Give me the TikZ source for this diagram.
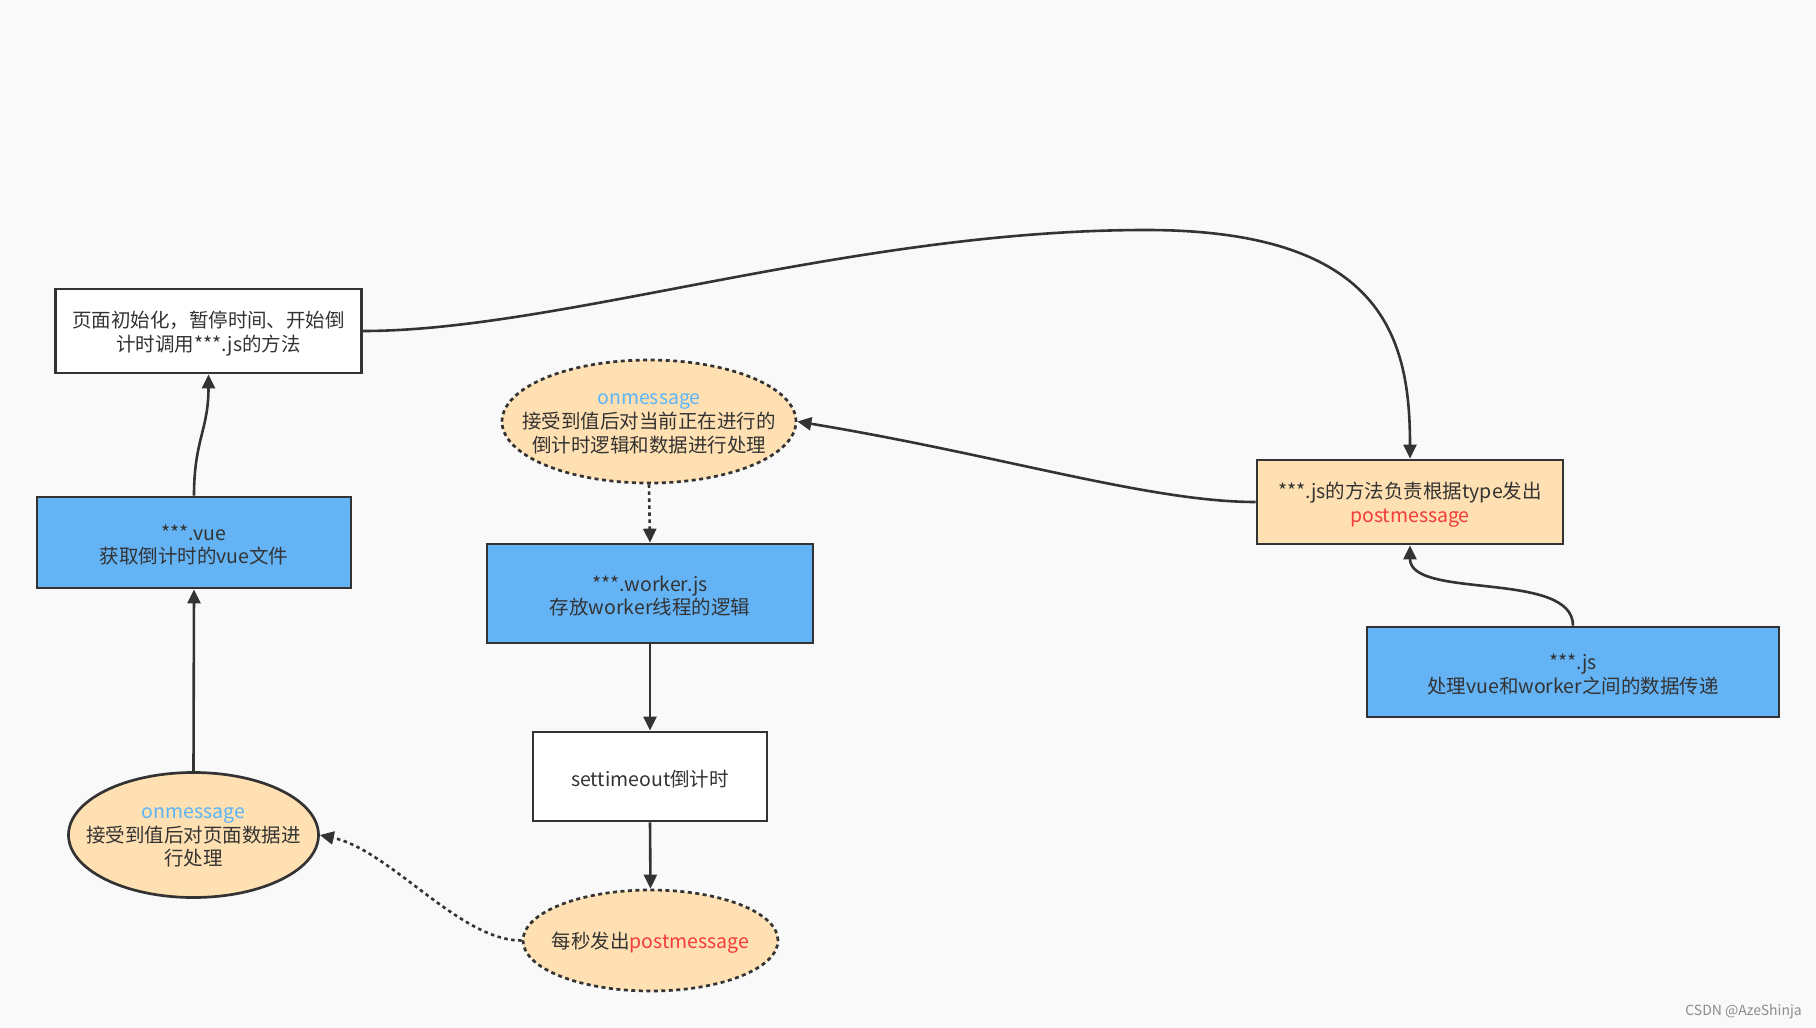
\documentclass[tikz,border=0pt]{standalone}
\usepackage{fontspec}
\setmainfont{Noto Sans CJK SC}
\usetikzlibrary{shapes.geometric,arrows.meta}
\definecolor{bgc}{HTML}{F9F9F9}
\definecolor{bluef}{HTML}{63B3F5}
\definecolor{orangef}{HTML}{FFE0B2}
\definecolor{linec}{HTML}{333333}
\definecolor{msgblue}{HTML}{5BB4F7}
\definecolor{msgred}{HTML}{F53B3B}
\tikzset{
  boxbase/.style={rectangle, draw=linec, line width=2.7pt, inner sep=0pt},
  whitebox/.style={boxbase, fill=white},
  bluebox/.style={boxbase, fill=bluef},
  orangebox/.style={boxbase, fill=orangef},
  ellsolid/.style={ellipse, draw=linec, line width=2.7pt, fill=orangef, inner sep=0pt},
  elldotted/.style={ellipse, draw=linec, line width=2.7pt, fill=orangef, inner sep=0pt, dash pattern=on 4pt off 3.5pt},
  txt/.style={align=center, text=linec, font=\fontsize{19.5pt}{23.8pt}\selectfont, inner sep=0pt, yshift=-2.5pt},
  conn/.style={draw=linec, line width=2.6pt, -{Triangle[length=14pt,width=13pt]}},
  dconn/.style={conn, dash pattern=on 3.5pt off 3.5pt},
}
\begin{document}
\begin{tikzpicture}[x=1pt,y=-1pt]
\fill[bgc] (0,0) rectangle (1816,1028);
\useasboundingbox (0,0) rectangle (1816,1028);

% nodes
\node[whitebox, minimum width=306pt, minimum height=84pt] (init) at (208.5,331) {};
\node[txt] at (init) {页面初始化，暂停时间、开始倒\\计时调用***.js的方法};

\node[bluebox, minimum width=314pt, minimum height=91pt] (vue) at (194,542.5) {};
\node[txt] at (vue) {***.vue\\获取倒计时的vue文件};

\node[ellsolid, minimum width=250pt, minimum height=125pt] (lmsg) at (193.5,835) {};
\node[txt] at (lmsg) {\textcolor{msgblue}{onmessage}\\接受到值后对页面数据进\\行处理};

\node[elldotted, minimum width=294pt, minimum height=123pt] (tmsg) at (649,421.5) {};
\node[txt] at (tmsg) {\textcolor{msgblue}{onmessage}\\接受到值后对当前正在进行的\\倒计时逻辑和数据进行处理};

\node[bluebox, minimum width=326pt, minimum height=99pt] (worker) at (650,593.5) {};
\node[txt] at (worker) {***.worker.js\\存放worker线程的逻辑};

\node[whitebox, minimum width=234pt, minimum height=89pt] (timeout) at (650,776.5) {};
\node[txt] at (timeout) {settimeout倒计时};

\node[elldotted, minimum width=255pt, minimum height=101pt] (bmsg) at (650.5,940.5) {};
\node[txt] at (bmsg) {每秒发出\textcolor{msgred}{postmessage}};

\node[orangebox, minimum width=306pt, minimum height=84pt] (jsm) at (1410,502) {};
\node[txt] at (jsm) {***.js的方法负责根据type发出\\\textcolor{msgred}{postmessage}};

\node[bluebox, minimum width=412pt, minimum height=90pt] (js) at (1573,672) {};
\node[txt] at (js) {***.js\\处理vue和worker之间的数据传递};

\node[anchor=east, text=black!45, font=\fontsize{14pt}{16pt}\selectfont, inner sep=0pt] (wm) at (1802,1012) {CSDN @AzeShinja};

% connectors
\draw[conn] (vue.north) .. controls (194,440) and (208.5,430) .. (init.south);
\draw[conn] (lmsg.north) -- (vue.south);
\draw[conn] (init.east) .. controls (560,331) and (850,230) .. (1146,230)
   .. controls (1385,230) and (1410,340) .. (jsm.north);
\draw[conn] (jsm.west) .. controls (1150,502) and (1000,455) .. (tmsg.east);
\draw[conn] (js.north) .. controls (1573,570) and (1410,600) .. (jsm.south);
\draw[dconn] (tmsg.south) -- (worker.north);
\draw[conn] (worker.south) -- (timeout.north);
\draw[conn] (timeout.south) -- (bmsg.north);
\draw[dconn] (bmsg.west) .. controls (460,941) and (390,850) .. (lmsg.east);
\end{tikzpicture}
\end{document}
